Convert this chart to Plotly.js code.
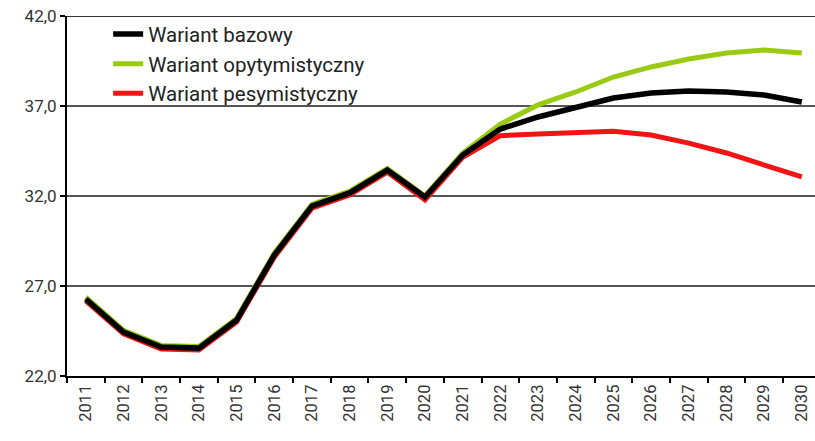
<!DOCTYPE html>
<html><head><meta charset="utf-8">
<script src="https://cdn.plot.ly/plotly-3.0.1.min.js"></script>
<style>html,body{margin:0;padding:0;background:#fff}#c{width:815px;height:441px}</style>
</head><body><div id="c"></div>
<script>
const years = ['2011','2012','2013','2014','2015','2016','2017','2018','2019','2020','2021','2022','2023','2024','2025','2026','2027','2028','2029','2030'];
const bazowy = [26.28,24.44,23.61,23.55,25.11,28.72,31.44,32.17,33.44,31.94,34.28,35.72,36.39,36.94,37.44,37.72,37.83,37.78,37.61,37.22];
const optymistyczny = [26.38,24.54,23.7,23.64,25.2,28.82,31.54,32.27,33.53,32.0,34.38,36.0,37.06,37.78,38.61,39.17,39.61,39.94,40.11,39.94];
const pesymistyczny = [26.18,24.34,23.5,23.45,25.0,28.6,31.32,32.05,33.33,31.78,34.15,35.35,35.45,35.55,35.6,35.39,34.94,34.39,33.72,33.06];
const yTicks = [22,27,32,37,42];

const traces = [
  {x: years, y: pesymistyczny, name: 'Wariant pesymistyczny', type: 'scatter', mode: 'lines',
   line: {color: '#f01414', width: 5}, legendrank: 3},
  {x: years, y: optymistyczny, name: 'Wariant opytymistyczny', type: 'scatter', mode: 'lines',
   line: {color: '#9acb14', width: 5}, legendrank: 2},
  {x: years, y: bazowy, name: 'Wariant bazowy', type: 'scatter', mode: 'lines',
   line: {color: '#000000', width: 5.5}, legendrank: 1}
];

const layout = {
  width: 815, height: 441,
  margin: {l: 67, r: 0, t: 16, b: 65},
  paper_bgcolor: '#fff', plot_bgcolor: '#fff',
  separators: ',.',
  font: {family: 'Roboto, Arial, sans-serif', color: '#333'},
  showlegend: true,
  legend: {x: 0.055, y: 1.005, xanchor: 'left', yanchor: 'top', bgcolor: 'rgba(0,0,0,0)',
    font: {size: 20.5, color: '#222'}, tracegroupgap: 0, traceorder: 'normal', itemwidth: 30},
  xaxis: {type: 'category', range: [-0.5, 19.35], showgrid: false, zeroline: false,
    showline: true, linecolor: '#000', linewidth: 2,
    ticks: 'outside', tickson: 'boundaries', ticklen: 5, tickwidth: 2, tickcolor: '#000',
    tickangle: -90, tickfont: {size: 16.5, color: '#333'}, fixedrange: true},
  yaxis: {range: [22, 42], tickvals: yTicks, ticktext: yTicks.map(v => v.toFixed(1).replace('.', ',')),
    showgrid: true, gridcolor: '#555', gridwidth: 1.5, zeroline: false,
    showline: true, linecolor: '#000', linewidth: 2,
    ticks: 'outside', ticklen: 5, tickwidth: 2, tickcolor: '#000',
    tickfont: {size: 17, color: '#333'}, fixedrange: true},
  shapes: [{type: 'line', xref: 'paper', yref: 'y', x0: 0, x1: 1, y0: 42, y1: 42,
    line: {color: '#333', width: 2}}]
};
Plotly.newPlot('c', traces, layout, {displayModeBar: false, staticPlot: true});
</script></body></html>
